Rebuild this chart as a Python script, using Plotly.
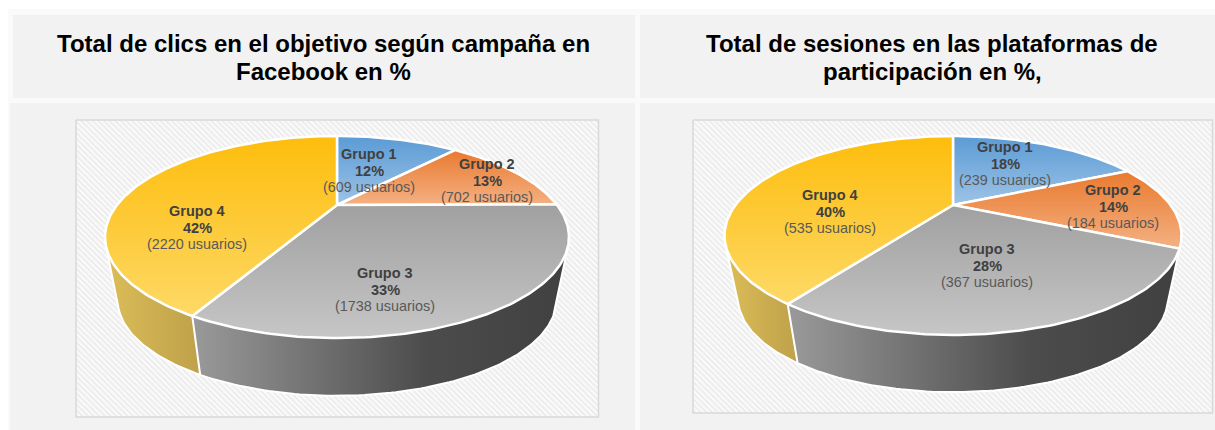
import numpy as np
import plotly.graph_objects as go

groups = ["Grupo 1", "Grupo 2", "Grupo 3", "Grupo 4"]
users_left = [609, 702, 1738, 2220]
pct_left = [12, 13, 33, 42]
users_right = [239, 184, 367, 535]
pct_right = [18, 14, 28, 40]
title_left = ["Total de clics en el objetivo según campaña en", "Facebook en %"]
title_right = ["Total de sesiones en las plataformas de", "participación en %,"]

TOP = [["#5b9bd5", "#9dc3e6"], ["#e97a2f", "#f4b183"], ["#a0a0a0", "#c6c6c6"], ["#fdbd0c", "#fdd966"]]
WALL_GRAY = [[0, "#9a9a9a"], [0.62, "#4c4c4c"], [1, "#404040"]]
WALL_GOLD = [[0, "#dcbd58"], [1, "#bea14a"]]
INK = "#404040"
FONT = "Liberation Sans, Arial"

fig = go.Figure()


def project(frac, g, plane=0):
    th = 2 * np.pi * np.asarray(frac)
    u, v = np.sin(th), np.cos(th)
    w = 1 + g["k"] * v
    s = g["s"] if plane else 1.0
    y0 = g["y1"] if plane else g["y0"]
    return g["cx"] + s * g["A"] * u / w, y0 - s * g["B"] * v / w


def arc(a, b):
    return np.linspace(a, b, max(int((b - a) * 360), 4))


def hull(x, y):
    pts = sorted(set(zip(np.round(x, 3).tolist(), np.round(y, 3).tolist())))

    def half(seq):
        out = []
        for p in seq:
            while len(out) > 1 and (out[-1][0] - out[-2][0]) * (p[1] - out[-2][1]) - (out[-1][1] - out[-2][1]) * (p[0] - out[-2][0]) <= 0:
                out.pop()
            out.append(p)
        return out[:-1]

    h = half(pts) + half(pts[::-1])
    h.append(h[0])
    return [p[0] for p in h], [p[1] for p in h]


def panel(x0, x1, y0, y1, c):
    fig.add_shape(type="rect", x0=x0, x1=x1, y0=y0, y1=y1, fillcolor=c, line_width=0, layer="below")


def pie(users, g):
    edges = np.concatenate([[0], np.cumsum(users) / np.sum(users)])
    for i, cs in [(3, WALL_GOLD), (2, WALL_GRAY)]:
        a = arc(edges[i], edges[i + 1])
        xu, yu = project(a, g)
        xl, yl = project(a, g, 1)
        hx, hy = hull(np.r_[xu, xl], np.r_[yu, yl])
        if i == 3:
            start, stop = min(hx), project(edges[3], g, 1)[0]
        else:
            start, stop = project(edges[3], g)[0], max(hx)
        fig.add_trace(go.Scatter(x=hx, y=hy, mode="lines", fill="toself", line=dict(color="white", width=2),
                                 fillgradient=dict(type="horizontal", colorscale=cs, start=start, stop=stop),
                                 hoverinfo="skip", showlegend=False))
    for i in range(4):
        x, y = project(arc(edges[i], edges[i + 1]), g)
        x = np.r_[g["cx"], x, g["cx"]]
        y = np.r_[g["y0"], y, g["y0"]]
        fig.add_trace(go.Scatter(x=x, y=y, mode="lines", fill="toself", line=dict(color="white", width=2.5),
                                 fillgradient=dict(type="vertical",
                                                   colorscale=[[0, TOP[i][0]], [1, TOP[i][1]]],
                                                   start=float(y.min()), stop=float(y.max())),
                                 hoverinfo="skip", showlegend=False))


def frame(x0, x1, y0, y1):
    fig.add_trace(go.Scatter(x=[x0, x1, x1, x0, x0], y=[y0, y0, y1, y1, y0], mode="lines", fill="toself",
                             line=dict(color="#d9d9d9", width=1.5), fillcolor="#f4f4f4",
                             fillpattern=dict(shape="\\", size=4, solidity=0.42, fgcolor="#dadada", bgcolor="#fafafa"),
                             hoverinfo="skip", showlegend=False))


def text(x, y, s, size, color, bold=False):
    fig.add_annotation(x=x, y=y, xref="x", yref="y", showarrow=False, align="center",
                       text=f"<b>{s}</b>" if bold else s,
                       font=dict(family=FONT, size=size, color=color))


def labels(users, pcts, pos):
    for g, u, p, (x, y) in zip(groups, users, pcts, pos):
        text(x, y - 17, g, 14.5, INK, True)
        text(x, y, f"{p}%", 14.5, INK, True)
        text(x, y + 16, f"({u} usuarios)", 14.4, "#595959")


panel(8, 1215, 9, 430, "#fafafa")
panel(13, 635, 15, 98, "#f2f2f2")
panel(640, 1215, 15, 98, "#f2f2f2")
panel(10, 635, 103, 430, "#f2f2f2")
panel(640, 1215, 103, 430, "#f2f2f2")

frame(76, 598.5, 120, 417)
frame(693, 1212.5, 120, 413)

geo_left = dict(cx=337, y0=205, y1=270, A=220, B=90.9, k=0.317, s=0.945)
geo_right = dict(cx=953, y0=205, y1=270, A=217.5, B=90.1, k=0.3065, s=0.94)
pie(users_left, geo_left)
pie(users_right, geo_right)

labels(users_left, pct_left, [(369, 171), (487, 181), (385, 290), (197, 228)])
labels(users_right, pct_right, [(1005, 164), (1113, 207), (987, 266), (830, 212)])

for lines, x in [(title_left, 323), (title_right, 932)]:
    text(x, 43, lines[0], 24, "black", True)
    text(x, 71, lines[1], 24, "black", True)

fig.update_layout(width=1215, height=430, margin=dict(l=0, r=0, t=0, b=0), paper_bgcolor="white",
                  plot_bgcolor="white", showlegend=False,
                  xaxis=dict(range=[0, 1215], visible=False, fixedrange=True),
                  yaxis=dict(range=[430, 0], visible=False, fixedrange=True))
fig.write_html("out.html", config={"displayModeBar": False},
               post_script="document.body.style.margin='0';document.body.style.overflow='hidden';")
